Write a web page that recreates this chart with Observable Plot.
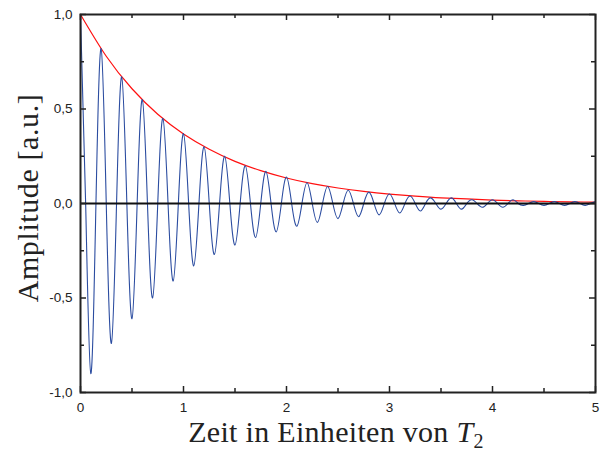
<!DOCTYPE html>
<html>
<head>
<meta charset="utf-8">
<script src="https://cdn.jsdelivr.net/npm/d3@7"></script>
<script src="https://cdn.jsdelivr.net/npm/@observablehq/plot@0.6"></script>
<style>
  html, body { margin: 0; padding: 0; background: #fff; }
  #chart { width: 602px; height: 452px; }
</style>
</head>
<body>
<div id="chart"></div>
<script>
// Damped oscillation: maxima every 0.2 T2 starting at t = 0,
// minima every 0.2 T2 starting at t = 0.1, zero crossings halfway between.
const halfPeriod = 0.1;
const peakValues = [1.00, 0.82, 0.67, 0.55, 0.45, 0.37, 0.30, 0.25, 0.20, 0.17, 0.14, 0.11, 0.09,
                    0.07, 0.06, 0.05, 0.04, 0.03, 0.03, 0.02, 0.02, 0.02, 0.01, 0.01, 0.01, 0.01];
const troughValues = [-0.90, -0.74, -0.61, -0.50, -0.41, -0.33, -0.27, -0.22, -0.18, -0.15, -0.12, -0.10,
                      -0.08, -0.07, -0.06, -0.05, -0.04, -0.03, -0.03, -0.02, -0.02, -0.01, -0.01, -0.01, -0.01];

// Red envelope, read every 0.25 T2
const envelopeTimes  = [0, 0.25, 0.5, 0.75, 1, 1.25, 1.5, 1.75, 2, 2.25, 2.5, 2.75, 3, 3.25, 3.5, 3.75, 4, 4.25, 4.5, 4.75, 5];
const envelopeValues = [1.000, 0.779, 0.607, 0.472, 0.368, 0.287, 0.223, 0.174, 0.135, 0.105, 0.082, 0.064,
                        0.050, 0.039, 0.030, 0.024, 0.018, 0.014, 0.011, 0.009, 0.007];

const xMajorTicks = [0, 1, 2, 3, 4, 5];
const xMinorTicks = [0.5, 1.5, 2.5, 3.5, 4.5];
const yMajorTicks = [-1, -0.5, 0, 0.5, 1];
const yMinorTicks = [-0.75, -0.25, 0.25, 0.75];

const xLabel = "Zeit in Einheiten von ";
const xLabelSymbol = "T";
const xLabelSub = "2";
const yLabel = "Amplitude [a.u.]";

// Build tables
const signal = [];
const nHalf = peakValues.length + troughValues.length - 1; // 50
for (let k = 0; k <= nHalf; k++) {
  const t = +(k * halfPeriod).toFixed(3);
  const v = k % 2 === 0 ? peakValues[k / 2] : troughValues[(k - 1) / 2];
  signal.push({t, v});
  if (k < nHalf) signal.push({t: +(t + halfPeriod / 2).toFixed(3), v: 0});
}
const envelope = envelopeTimes.map((t, i) => ({t, v: envelopeValues[i]}));

const fmtY = d => d.toFixed(1).replace(".", ",");

const W = 602, H = 452, ML = 80, MR = 7, MT = 14, MB = 60;
const innerW = W - ML - MR, innerH = H - MT - MB;
const tickStroke = {stroke: "#222", strokeWidth: 1.5};

const plot = Plot.plot({
  width: W,
  height: H,
  marginLeft: ML,
  marginRight: MR,
  marginTop: MT,
  marginBottom: MB,
  x: {domain: [0, 5]},
  y: {domain: [-1, 1]},
  style: {fontFamily: "'Liberation Sans', Arial, sans-serif", fontSize: "13.5px", color: "#222", background: "#fff"},
  marks: [
    Plot.line(envelope, {x: "t", y: "v", stroke: "#ff1010", strokeWidth: 1.2, curve: "natural"}),
    Plot.line(signal, {x: "t", y: "v", stroke: "#2b4ca0", strokeWidth: 1.1, curve: "natural"}),
    Plot.ruleY([0], {stroke: "#111", strokeWidth: 2}),
    Plot.frame({stroke: "#222", strokeWidth: 2}),
    // tick labels
    Plot.axisX(xMajorTicks, {anchor: "bottom", tickSize: 0, tickPadding: 10, tickFormat: d => String(d), label: null}),
    Plot.axisY(yMajorTicks, {anchor: "left", tickSize: 0, tickPadding: 8, tickFormat: fmtY, label: null}),
    // inward ticks: bottom / top
    Plot.tickX(xMajorTicks, {x: d => d, insetTop: innerH - 6, ...tickStroke}),
    Plot.tickX(xMinorTicks, {x: d => d, insetTop: innerH - 4, ...tickStroke}),
    Plot.tickX(xMajorTicks, {x: d => d, insetBottom: innerH - 6, ...tickStroke}),
    Plot.tickX(xMinorTicks, {x: d => d, insetBottom: innerH - 4, ...tickStroke}),
    // inward ticks: left / right
    Plot.tickY(yMajorTicks, {y: d => d, insetRight: innerW - 6, ...tickStroke}),
    Plot.tickY(yMinorTicks, {y: d => d, insetRight: innerW - 4, ...tickStroke}),
    Plot.tickY(yMajorTicks, {y: d => d, insetLeft: innerW - 6, ...tickStroke}),
    Plot.tickY(yMinorTicks, {y: d => d, insetLeft: innerW - 4, ...tickStroke})
  ]
});

const svg = d3.select(plot);
const serif = "'Liberation Serif', 'Times New Roman', serif";

const xt = svg.append("text")
  .attr("x", 336).attr("y", 442)
  .attr("text-anchor", "middle")
  .attr("font-family", serif).attr("font-size", 30).attr("fill", "#222")
  .attr("letter-spacing", 0.3);
xt.append("tspan").text(xLabel);
xt.append("tspan").attr("font-style", "italic").text(xLabelSymbol);
xt.append("tspan").attr("font-size", 20).attr("dy", 6).text(xLabelSub);

svg.append("text")
  .attr("transform", "translate(38,198) rotate(-90)")
  .attr("text-anchor", "middle")
  .attr("font-family", serif).attr("font-size", 30).attr("fill", "#222")
  .attr("letter-spacing", 0.6)
  .text(yLabel);

document.getElementById("chart").appendChild(plot);
</script>
</body>
</html>
